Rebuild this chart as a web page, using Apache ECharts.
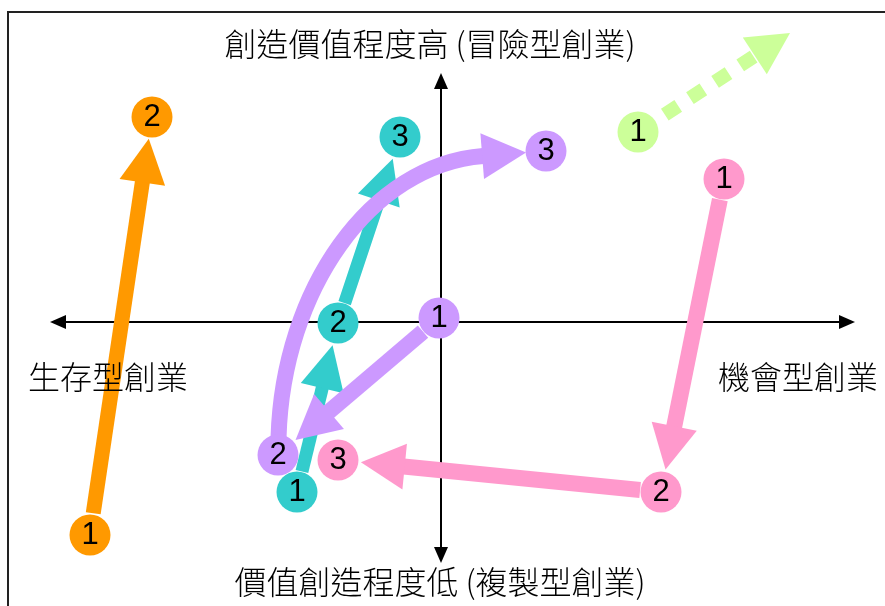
<!DOCTYPE html>
<html>
<head>
<meta charset="utf-8">
<script src="https://cdn.jsdelivr.net/npm/echarts@6/dist/echarts.min.js"></script>
<style>
  html, body { margin: 0; padding: 0; background: #fff; }
  #main { width: 885px; height: 606px; }
</style>
</head>
<body>
<div id="main"></div>
<script>
// 座標：原點 = 兩軸交點，x 往右 = 機會型，y 往上 = 價值創造程度高
const xRange = [-441, 444]
const yRange = [-284, 322]

// 兩條軸的箭頭端點
const axisH = [[-391, 0], [414, 0]]
const axisV = [[0, -241], [0, 249]]

// 各路徑的階段位置 (1, 2, 3)
const orangeStages = [[-351, -213], [-289, 205]]
const pinkStages = [[283, 143], [220, -170], [-103, -138]]
const cyanStages = [[-144, -170], [-103, -1], [-41, 185]]
const purpleStages = [[-2, 4], [-163, -133], [105, 171]]
const greenStages = [[197, 190]]
const greenTarget = [349, 289]
// 紫色 2 -> 3 弧線的兩個控制點
const purpleArcCtrl = [[-158, 32], [-71, 157]]

const labelTop = '創造價值程度高 (冒險型創業)'
const labelBottom = '價值創造程度低 (複製型創業)'
const labelLeft = '生存型創業'
const labelRight = '機會型創業'

const cjkFont = '300 32px "Noto Sans CJK TC", "Noto Sans CJK SC", sans-serif'

function segments(stages) {
  const out = []
  for (let i = 0; i < stages.length - 1; i++) {
    out.push(stages[i].concat(stages[i + 1]))
  }
  return out
}

function unit(a, b) {
  const dx = b[0] - a[0]
  const dy = b[1] - a[1]
  const len = Math.hypot(dx, dy) || 1
  return [dx / len, dy / len]
}

function head(tip, u, len, width, color) {
  const base = [tip[0] - u[0] * len, tip[1] - u[1] * len]
  const hw = width / 2
  return {
    type: 'polygon',
    shape: {
      points: [
        tip,
        [base[0] - u[1] * hw, base[1] + u[0] * hw],
        [base[0] + u[1] * hw, base[1] - u[0] * hw]
      ]
    },
    style: { fill: color }
  }
}

// 直線箭頭 (起點留空隙避開圓圈)
function arrowSeries(data, o) {
  return {
    type: 'custom',
    coordinateSystem: 'cartesian2d',
    silent: true,
    clip: false,
    z: o.z,
    data: data,
    renderItem: function (params, api) {
      const a = api.coord([api.value(0), api.value(1)])
      const b = api.coord([api.value(2), api.value(3)])
      const u = unit(a, b)
      const start = [a[0] + u[0] * o.gapStart, a[1] + u[1] * o.gapStart]
      const tip = [b[0] - u[0] * o.gapEnd, b[1] - u[1] * o.gapEnd]
      const base = [tip[0] - u[0] * (o.headLen - 1), tip[1] - u[1] * (o.headLen - 1)]
      return {
        type: 'group',
        children: [
          {
            type: 'line',
            shape: { x1: start[0], y1: start[1], x2: base[0], y2: base[1] },
            style: { stroke: o.color, lineWidth: o.width, lineDash: o.dash || null, fill: null }
          },
          head(tip, u, o.headLen, o.headWidth, o.color)
        ]
      }
    }
  }
}

function stageSeries(stages, color, z) {
  return {
    type: 'scatter',
    z: z,
    silent: true,
    symbol: 'circle',
    symbolSize: 41,
    data: stages,
    itemStyle: { color: color, opacity: 1 },
    label: {
      show: true,
      position: 'inside',
      formatter: function (p) { return String(p.dataIndex + 1) },
      color: '#000',
      fontSize: 31,
      fontFamily: '"Liberation Sans", Arial, sans-serif'
    }
  }
}

const chart = echarts.init(document.getElementById('main'))

const option = {
  animation: false,
  backgroundColor: '#fff',
  grid: { left: 0, right: 0, top: 0, bottom: 0 },
  xAxis: { type: 'value', min: xRange[0], max: xRange[1], show: false },
  yAxis: { type: 'value', min: yRange[0], max: yRange[1], show: false },
  graphic: [
    {
      type: 'rect',
      z: 0,
      shape: { x: 8, y: 12, width: 900, height: 620 },
      style: { fill: null, stroke: '#222', lineWidth: 2 }
    },
    {
      type: 'text', z: 100, x: 430, y: 44,
      style: { text: labelTop, font: cjkFont, fill: '#000', align: 'center', verticalAlign: 'middle', textAlign: 'center', textVerticalAlign: 'middle' }
    },
    {
      type: 'text', z: 100, x: 440, y: 582,
      style: { text: labelBottom, font: cjkFont, fill: '#000', align: 'center', verticalAlign: 'middle', textAlign: 'center', textVerticalAlign: 'middle' }
    },
    {
      type: 'text', z: 100, x: 28, y: 377,
      style: { text: labelLeft, font: cjkFont, fill: '#000', align: 'left', verticalAlign: 'middle', textAlign: 'left', textVerticalAlign: 'middle' }
    },
    {
      type: 'text', z: 100, x: 718, y: 377,
      style: { text: labelRight, font: cjkFont, fill: '#000', align: 'left', verticalAlign: 'middle', textAlign: 'left', textVerticalAlign: 'middle' }
    }
  ],
  series: [
    // 軸 (兩端箭頭)
    {
      type: 'custom',
      coordinateSystem: 'cartesian2d',
      silent: true,
      clip: false,
      z: 1,
      data: [axisH[0].concat(axisH[1]), axisV[0].concat(axisV[1])],
      renderItem: function (params, api) {
        const a = api.coord([api.value(0), api.value(1)])
        const b = api.coord([api.value(2), api.value(3)])
        const u = unit(a, b)
        return {
          type: 'group',
          children: [
            {
              type: 'line',
              shape: { x1: a[0] + u[0] * 8, y1: a[1] + u[1] * 8, x2: b[0] - u[0] * 8, y2: b[1] - u[1] * 8 },
              style: { stroke: '#000', lineWidth: 2, fill: null }
            },
            head(b, u, 16, 14, '#000'),
            head(a, [-u[0], -u[1]], 16, 14, '#000')
          ]
        }
      }
    },
    arrowSeries(segments(orangeStages), { color: '#FF9900', width: 15, gapStart: 22, gapEnd: 22, headLen: 44, headWidth: 46, z: 3 }),
    arrowSeries(segments(pinkStages), { color: '#FF99CC', width: 16, gapStart: 21, gapEnd: 23, headLen: 44, headWidth: 46, z: 3 }),
    arrowSeries([greenStages[0].concat(greenTarget)], { color: '#CCFF99', width: 14, dash: [16, 14], gapStart: 32, gapEnd: 0, headLen: 42, headWidth: 44, z: 3 }),
    arrowSeries(segments(cyanStages), { color: '#33CCCC', width: 13, gapStart: 21, gapEnd: 23, headLen: 44, headWidth: 44, z: 4 }),
    arrowSeries(segments(purpleStages.slice(0, 2)), { color: '#CC99FF', width: 16, gapStart: 21, gapEnd: 23, headLen: 44, headWidth: 46, z: 5 }),
    // 紫色 2 -> 3 弧線
    {
      type: 'custom',
      coordinateSystem: 'cartesian2d',
      silent: true,
      clip: false,
      z: 5,
      data: [purpleStages[1].concat(purpleArcCtrl[0], purpleArcCtrl[1], purpleStages[2])],
      renderItem: function (params, api) {
        const p0 = api.coord([api.value(0), api.value(1)])
        const c1 = api.coord([api.value(2), api.value(3)])
        const c2 = api.coord([api.value(4), api.value(5)])
        const p3 = api.coord([api.value(6), api.value(7)])
        const us = unit(p0, c1)
        const start = [p0[0] + us[0] * 18, p0[1] + us[1] * 18]
        const ue = unit(c2, p3)
        const tip = [p3[0] - ue[0] * 20, p3[1] - ue[1] * 20]
        const base = [tip[0] - ue[0] * 43, tip[1] - ue[1] * 43]
        return {
          type: 'group',
          children: [
            {
              type: 'bezierCurve',
              shape: {
                x1: start[0], y1: start[1], x2: base[0], y2: base[1],
                cpx1: c1[0], cpy1: c1[1], cpx2: c2[0], cpy2: c2[1]
              },
              style: { stroke: '#CC99FF', lineWidth: 16, fill: null }
            },
            head(tip, ue, 44, 46, '#CC99FF')
          ]
        }
      }
    },
    stageSeries(orangeStages, '#FF9900', 10),
    stageSeries(pinkStages, '#FF99CC', 10),
    stageSeries(greenStages, '#CCFF99', 10),
    stageSeries(purpleStages, '#CC99FF', 11),
    stageSeries(cyanStages, '#33CCCC', 12)
  ]
}

chart.setOption(option)
</script>
</body>
</html>
